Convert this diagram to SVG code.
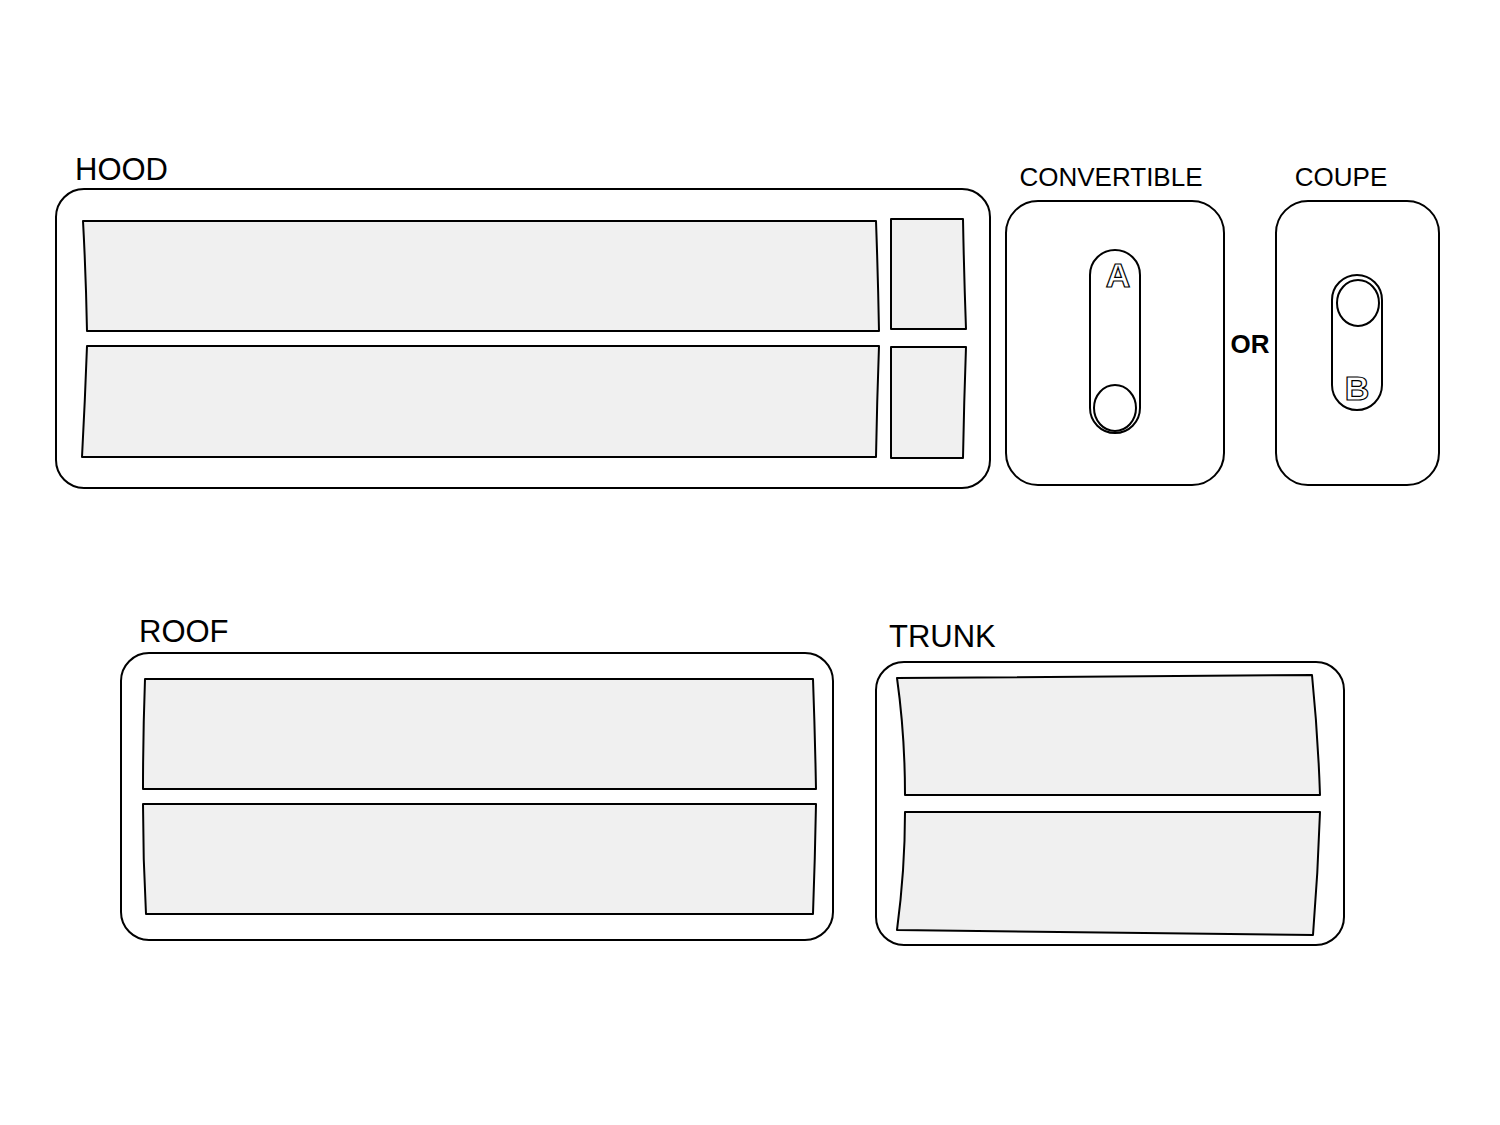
<svg xmlns="http://www.w3.org/2000/svg" width="1500" height="1125" viewBox="0 0 1500 1125">
<style>
.box{fill:#fff;stroke:#000;stroke-width:2}
.p{fill:#f0f0f0;stroke:#000;stroke-width:2;stroke-linejoin:round}
.l{font-family:"Liberation Sans",Arial,sans-serif;fill:#000}
.o{font-family:"Liberation Sans",Arial,sans-serif;font-weight:bold;fill:#fff;stroke:#000;stroke-width:1.2;text-anchor:middle}
</style>
<rect width="1500" height="1125" fill="#fff"/>
<g id="hood">
<text class="l" x="75" y="180" font-size="31">HOOD</text>
<rect class="box" x="56" y="189" width="934" height="299" rx="28"/>
<path class="p" d="M83,221 L876,221 Q878,276 879,331 L87,331 Q86,276 83,221Z"/>
<path class="p" d="M891,219 L963,219 Q964,274 966,329 L891,329Z"/>
<path class="p" d="M87,346 L879,346 Q877,401 876,457 L82,457 Q85,401 87,346Z"/>
<path class="p" d="M891,347 L966,347 Q964,402 963,458 L891,458Z"/>
</g>
<g id="convertible">
<text class="l" x="1111" y="186" font-size="26" text-anchor="middle">CONVERTIBLE</text>
<rect class="box" x="1006" y="201" width="218" height="284" rx="32"/>
<rect class="box" x="1090" y="250" width="50" height="183" rx="25"/>
<ellipse class="box" cx="1115" cy="408" rx="21" ry="23"/>
<text class="o" x="1118" y="287" font-size="34">A</text>
</g>
<g id="or"><text class="l" x="1250" y="353" font-size="26" font-weight="bold" text-anchor="middle">OR</text></g>
<g id="coupe">
<text class="l" x="1341" y="186" font-size="26" text-anchor="middle">COUPE</text>
<rect class="box" x="1276" y="201" width="163" height="284" rx="32"/>
<rect class="box" x="1332" y="275" width="50" height="135" rx="25"/>
<ellipse class="box" cx="1358" cy="303" rx="21" ry="23"/>
<text class="o" x="1357" y="400" font-size="34">B</text>
</g>
<g id="roof">
<text class="l" x="139" y="642" font-size="31">ROOF</text>
<rect class="box" x="121" y="653" width="712" height="287" rx="28"/>
<path class="p" d="M145,679 L813,679 Q815,734 816,789 L143,789 Q143,734 145,679Z"/>
<path class="p" d="M143,804 L816,804 Q815,859 813,914 L146,914 Q143,859 143,804Z"/>
</g>
<g id="trunk">
<text class="l" x="889" y="647" font-size="31">TRUNK</text>
<rect class="box" x="876" y="662" width="468" height="283" rx="28"/>
<path class="p" d="M897,678 L1312,675 Q1318,735 1320,795 L905,795 Q905,735 897,678Z"/>
<path class="p" d="M905,812 L1320,812 Q1318,873 1313,935 L897,930 Q905,870 905,812Z"/>
</g>
<g id="connectors"/>
</svg>
